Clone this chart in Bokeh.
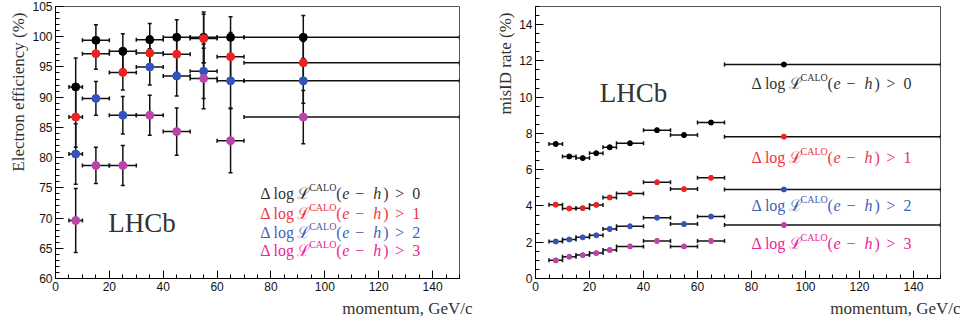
from bokeh.plotting import figure
from bokeh.models import (ColumnDataSource, Whisker, TeeHead, Label, Title,
                          SingleIntervalTicker, Range1d)
from bokeh.layouts import row
from bokeh.core.properties import value
from bokeh.embed import file_html
from bokeh.resources import INLINE

# ---------------- data: electron efficiency (left panel) ----------------
eff_lo = [5, 10, 20, 30, 40, 50, 60, 70]
eff_hi = [10, 20, 30, 40, 50, 60, 70, 150]
eff_x = [7.5, 15, 25, 35, 45, 55, 65, 92]
eff_dll0 = [91.7, 99.4, 97.6, 99.5, 99.9, 99.9, 99.9, 99.9]
eff_dll0_err = [4.8, 2.6, 2.9, 2.7, 2.9, 4.2, 3.4, 3.6]
eff_dll1 = [86.7, 97.2, 94.1, 97.3, 97.1, 99.7, 96.7, 95.7]
eff_dll1_err = [5.0, 2.6, 2.9, 2.8, 3.0, 4.0, 4.0, 3.5]
eff_dll2 = [80.6, 89.8, 87.0, 95.0, 93.5, 94.3, 92.7, 92.7]
eff_dll2_err = [5.0, 2.8, 3.1, 3.0, 3.3, 4.5, 4.5, 3.7]
eff_dll3 = [69.6, 78.7, 78.7, 87.0, 84.3, 93.1, 82.8, 86.7]
eff_dll3_err = [5.3, 3.0, 3.3, 3.3, 3.9, 5.0, 5.3, 4.4]

# ---------------- data: misID rate (right panel) ----------------
mis_lo = [5, 10, 15, 20, 25, 30, 40, 50, 60, 70]
mis_hi = [10, 15, 20, 25, 30, 40, 50, 60, 70, 150]
mis_x = [7.5, 12.5, 17.5, 22.5, 27.5, 35, 45, 55, 65, 92]
mis_dll0 = [7.42, 6.73, 6.64, 6.91, 7.24, 7.46, 8.18, 7.91, 8.60, 11.8]
mis_dll1 = [4.07, 3.86, 3.88, 4.06, 4.47, 4.69, 5.31, 4.93, 5.55, 7.82]
mis_dll2 = [2.04, 2.15, 2.27, 2.38, 2.73, 2.88, 3.35, 3.00, 3.42, 4.91]
mis_dll3 = [1.00, 1.20, 1.29, 1.40, 1.57, 1.77, 2.07, 1.77, 2.07, 2.95]
mis_err = [0.08, 0.07, 0.07, 0.07, 0.08, 0.07, 0.08, 0.08, 0.08, 0.08]

cuts = ["0", "1", "2", "3"]
marker_colors = ["#000000", "#ee2222", "#3355bb", "#bb44aa"]
text_colors = ["#333333", "#ee3344", "#3f5fb5", "#ee2299"]

eff_leg_x = 76
eff_leg_y = [74.0, 70.7, 67.6, 64.6]
mis_leg_x = 80
mis_leg_y = [10.73, 6.69, 4.02, 1.95]

SERIF = "Liberation Serif"
SANS = "Liberation Sans"


def style_fig(p, ytick, ylab, xoff):
    p.xgrid.visible = False
    p.ygrid.visible = False
    p.outline_line_color = "#555555"
    p.outline_line_width = 1
    p.background_fill_color = "white"
    p.border_fill_color = "white"
    p.xaxis.ticker = SingleIntervalTicker(interval=20, num_minor_ticks=4)
    p.yaxis.ticker = ytick
    for ax in (p.xaxis[0], p.yaxis[0]):
        ax.major_tick_in = 8
        ax.major_tick_out = 0
        ax.minor_tick_in = 4
        ax.minor_tick_out = 0
        ax.axis_line_color = "#000000"
        ax.major_tick_line_color = "#000000"
        ax.minor_tick_line_color = "#000000"
        ax.major_label_text_font = SANS
        ax.major_label_text_font_size = "12px"
        ax.major_label_text_color = "#111111"
        ax.major_label_standoff = 3
    p.add_layout(Title(text=ylab, align="right", text_font=SERIF,
                       text_font_size="17px", text_font_style="normal",
                       text_color="#333333", standoff=4, offset=6), "left")
    p.add_layout(Title(text="momentum, GeV/c", align="right", text_font=SERIF,
                       text_font_size="17px", text_font_style="normal",
                       text_color="#333333", standoff=6, offset=xoff), "below")


def add_series(p, lo, hi, xc, y, err, color, msize, cap):
    src = ColumnDataSource(dict(x=xc, y=y, lo=lo, hi=hi,
                                ylo=[a - b for a, b in zip(y, err)],
                                yhi=[a + b for a, b in zip(y, err)]))
    p.add_layout(Whisker(source=src, base="y", lower="lo", upper="hi",
                         dimension="width", line_color="#111111", line_width=1.5,
                         upper_head=TeeHead(size=cap, line_color="#111111", line_width=1.5),
                         lower_head=TeeHead(size=cap, line_color="#111111", line_width=1.5)))
    p.add_layout(Whisker(source=src, base="x", lower="ylo", upper="yhi",
                         dimension="height", line_color="#111111", line_width=1.5,
                         upper_head=TeeHead(size=cap, line_color="#111111", line_width=1.5),
                         lower_head=TeeHead(size=cap, line_color="#111111", line_width=1.5)))
    p.scatter("x", "y", source=src, size=msize, marker="circle",
              fill_color=color, line_color=color)


def add_legend(p, x0, ys):
    # pieces: text, dx, dy, font size, style
    pieces = [("Δ log", 0, 0, "16px", "normal"),
              ("ℒ", 37, 0, "16px", "normal"),
              ("CALO", 49, -6, "10px", "normal"),
              ("(", 76, 0, "16px", "normal"),
              ("e", 82, 0, "16px", "italic"),
              ("−", 95, 0, "16px", "normal"),
              ("h", 113, 0, "16px", "italic"),
              (")", 123, 0, "16px", "normal"),
              (">", 135, 0, "16px", "normal")]
    d = dict(x=[], y=[], text=[], dx=[], dy=[], size=[], style=[], color=[])
    for i, yv in enumerate(ys):
        for t, dx, dy, s, st in pieces + [(cuts[i], 152, 0, "16px", "normal")]:
            d["x"].append(x0)
            d["y"].append(yv)
            d["text"].append(t)
            d["dx"].append(dx)
            d["dy"].append(dy)
            d["size"].append(s)
            d["style"].append(st)
            d["color"].append(text_colors[i])
    src = ColumnDataSource(d)
    p.text(x="x", y="y", text="text", x_offset="dx", y_offset="dy",
           text_font_size="size", text_font_style="style", text_color="color",
           text_font=value(SERIF), text_baseline="middle", text_align="left",
           source=src)


# ---------------- left figure ----------------
p1 = figure(width=480, height=320, x_range=Range1d(0, 150), y_range=Range1d(60, 105),
            output_backend="svg", toolbar_location=None,
            min_border_left=55, min_border_right=21, min_border_top=6,
            min_border_bottom=38)
style_fig(p1, SingleIntervalTicker(interval=5, num_minor_ticks=5),
          "Electron efficiency (%)", -13)
for yv, ev, c in zip([eff_dll0, eff_dll1, eff_dll2, eff_dll3],
                     [eff_dll0_err, eff_dll1_err, eff_dll2_err, eff_dll3_err],
                     marker_colors):
    add_series(p1, eff_lo, eff_hi, eff_x, yv, ev, c, 8, 4)
p1.add_layout(Label(x=19.6, y=66.7, text="LHCb", text_font=SERIF,
                    text_font_size="27px", text_color="#333333"))
add_legend(p1, eff_leg_x, eff_leg_y)

# ---------------- right figure ----------------
p2 = figure(width=480, height=320, x_range=Range1d(0, 150), y_range=Range1d(0, 15),
            output_backend="svg", toolbar_location=None,
            min_border_left=55, min_border_right=20, min_border_top=6,
            min_border_bottom=38)
style_fig(p2, SingleIntervalTicker(interval=2, num_minor_ticks=4),
          "misID rate (%)", -20)
for yv, c in zip([mis_dll0, mis_dll1, mis_dll2, mis_dll3], marker_colors):
    add_series(p2, mis_lo, mis_hi, mis_x, yv, mis_err, c, 5, 4)
p2.add_layout(Label(x=23.8, y=9.42, text="LHCb", text_font=SERIF,
                    text_font_size="27px", text_color="#333333"))
add_legend(p2, mis_leg_x, mis_leg_y)

layout = row(p1, p2)
open("out.html", "w").write(file_html(layout, INLINE))
